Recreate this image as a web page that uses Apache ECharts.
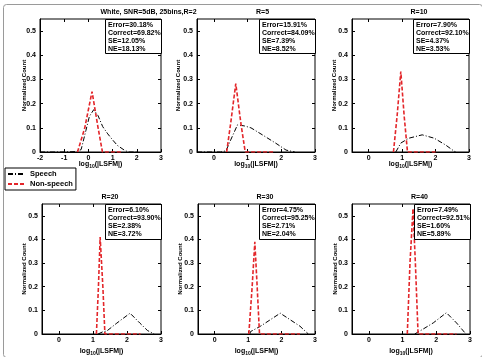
<!DOCTYPE html>
<html>
<head>
<meta charset="utf-8">
<script src="https://cdn.jsdelivr.net/npm/echarts@6/dist/echarts.min.js"></script>
<style>
html, body { margin: 0; padding: 0; background: #fff; }
#main { width: 482px; height: 357px; }
</style>
</head>
<body>
<div id="main"></div>
<script>
// panel titles and stats boxes
var panelTitles = ['White, SNR=5dB, 25bins,R=2', 'R=5', 'R=10', 'R=20', 'R=30', 'R=40'];
var errorPct = ['30.18', '15.91', '7.90', '6.10', '4.75', '7.49'];
var correctPct = ['69.82', '84.09', '92.10', '93.90', '95.25', '92.51'];
var sePct = ['12.05', '7.39', '4.37', '2.38', '2.71', '1.60'];
var nePct = ['18.13', '8.52', '3.53', '3.72', '2.04', '5.89'];

// axes
var xMins = [-2, -0.5, -0.5, -0.5, -0.5, -0.5];
var xMax = 3;
var xTicksFirst = [-2, -1, 0, 1, 2, 3];
var xTicks = [0, 1, 2, 3];
var yTicks = [0, 0.1, 0.2, 0.3, 0.4, 0.5];
var yMax = 0.55;

// histograms [log10(|LSFM|), normalized count]
var speechR2 = [[-2, 0], [-1, 0], [-0.5, 0.002], [-0.3, 0.01], [-0.1, 0.09], [0.04, 0.147], [0.22, 0.175], [0.4, 0.15], [0.59, 0.105], [0.8, 0.075], [1.0, 0.05], [1.2, 0.027], [1.48, 0.008], [1.65, 0], [2, 0]];
var nonspeechR2 = [[-0.45, 0], [-0.15, 0.1], [0.15, 0.25], [0.4, 0.1], [0.58, 0], [1.4, 0]];
var speechR5 = [[-0.5, 0], [0.2, 0], [0.36, 0.005], [0.5, 0.05], [0.7, 0.112], [0.9, 0.108], [1.1, 0.1], [1.45, 0.07], [1.84, 0.036], [2.14, 0.008], [2.4, 0]];
var nonspeechR5 = [[0.38, 0], [0.5, 0.12], [0.65, 0.283], [0.8, 0.12], [0.93, 0], [1.8, 0]];
var speechR10 = [[0.81, 0], [0.96, 0.037], [1.2, 0.057], [1.6, 0.071], [1.96, 0.057], [2.3, 0.029], [2.55, 0.004], [2.6, 0]];
var nonspeechR10 = [[0.74, 0], [0.85, 0.15], [0.96, 0.333], [1.06, 0.15], [1.16, 0], [2.0, 0]];
var speechR20 = [[1.15, 0], [1.3, 0.01], [1.4, 0.012], [1.7, 0.046], [2.09, 0.088], [2.38, 0.046], [2.6, 0.015], [2.8, 0]];
var nonspeechR20 = [[1.1, 0], [1.16, 0.2], [1.21, 0.41], [1.29, 0.2], [1.35, 0], [2.4, 0]];
var speechR30 = [[1.05, 0], [1.07, 0.01], [1.37, 0.033], [1.96, 0.088], [2.55, 0.033], [2.8, 0]];
var nonspeechR30 = [[1.02, 0], [1.12, 0.2], [1.2, 0.39], [1.27, 0.2], [1.34, 0], [2.55, 0]];
var speechR40 = [[1.36, 0], [1.6, 0.02], [1.91, 0.047], [2.3, 0.09], [2.6, 0.047], [2.88, 0]];
var nonspeechR40 = [[1.14, 0], [1.22, 0.3], [1.31, 0.53], [1.38, 0.3], [1.46, 0], [2.6, 0]];

var speechAll = [speechR2, speechR5, speechR10, speechR20, speechR30, speechR40];
var nonspeechAll = [nonspeechR2, nonspeechR5, nonspeechR10, nonspeechR20, nonspeechR30, nonspeechR40];

var font = "'Liberation Sans', Arial, sans-serif";
var chart = echarts.init(document.getElementById('main'));

var grids = [
  { left: 40, top: 19, width: 121, height: 133 },
  { left: 197, top: 19, width: 118, height: 133 },
  { left: 352, top: 19, width: 117, height: 133 },
  { left: 42, top: 204, width: 119, height: 134 },
  { left: 198, top: 204, width: 117, height: 134 },
  { left: 352, top: 204, width: 118, height: 134 }
];
var yNameGaps = [13, 16, 15, 15, 15, 14];

var xAxes = [], yAxes = [], xMirror = [], yMirror = [], series = [];
var graphics = [{
  type: 'rect', left: 1, top: 2, silent: true,
  shape: { width: 479, height: 353, r: 3 },
  style: { fill: null, stroke: '#9a9a9a', lineWidth: 1 }
}];

grids.forEach(function (g, i) {
  g.show = true;
  g.borderColor = '#000';
  g.borderWidth = 1;
  g.backgroundColor = '#fff';
  var ticks = i === 0 ? xTicksFirst : xTicks;
  xAxes.push({
    type: 'value', gridIndex: i, min: xMins[i], max: xMax,
    axisLine: { onZero: false, lineStyle: { color: '#000', width: 1 } },
    axisTick: { inside: true, length: 3, customValues: ticks, lineStyle: { color: '#000' } },
    axisLabel: { customValues: ticks, margin: 3, fontSize: 7, fontWeight: 'bold', color: '#000', fontFamily: font },
    splitLine: { show: false },
    name: 'log{sub|10}(|LSFM|)',
    nameLocation: 'middle',
    nameMoveOverlap: false,
    nameGap: i < 3 ? 8 : 13,
    nameTextStyle: {
      fontSize: 7, fontWeight: 'bold', color: '#000', fontFamily: font,
      rich: { sub: { fontSize: 5, fontWeight: 'bold', color: '#000', fontFamily: font, padding: [4, 0, 0, 0] } }
    }
  });
  yAxes.push({
    type: 'value', gridIndex: i, min: 0, max: yMax,
    axisLine: { onZero: false, lineStyle: { color: '#000', width: 1 } },
    axisTick: { inside: true, length: 3, customValues: yTicks, lineStyle: { color: '#000' } },
    axisLabel: { customValues: yTicks, margin: 4, fontSize: 7, fontWeight: 'bold', color: '#000', fontFamily: font },
    splitLine: { show: false },
    name: 'Normalized Count',
    nameLocation: 'middle',
    nameMoveOverlap: false,
    nameGap: yNameGaps[i],
    nameTextStyle: { fontSize: 6, fontWeight: 'bold', color: '#000', fontFamily: font }
  });
  // tick marks on the top and right edges (box on)
  xMirror.push({
    type: 'value', gridIndex: i, position: 'top', min: xMins[i], max: xMax,
    axisLine: { show: false, onZero: false },
    axisTick: { inside: true, length: 3, customValues: ticks, lineStyle: { color: '#000' } },
    axisLabel: { show: false }, splitLine: { show: false }
  });
  yMirror.push({
    type: 'value', gridIndex: i, position: 'right', min: 0, max: yMax,
    axisLine: { show: false, onZero: false },
    axisTick: { inside: true, length: 3, customValues: yTicks, lineStyle: { color: '#000' } },
    axisLabel: { show: false }, splitLine: { show: false }
  });
  series.push({
    name: 'Speech', type: 'line', xAxisIndex: i, yAxisIndex: i,
    data: speechAll[i], symbol: 'none', showSymbol: false, z: 2,
    lineStyle: { color: '#000', width: 1, type: [5, 2, 1, 2] }
  });
  series.push({
    name: 'Non-speech', type: 'line', xAxisIndex: i, yAxisIndex: i,
    data: nonspeechAll[i], symbol: 'none', showSymbol: false, z: 3,
    lineStyle: { color: '#e3262a', width: 1.6, type: [4, 2] }
  });

  var right = g.left + g.width;
  graphics.push({
    type: 'text', left: g.left + g.width / 2, top: g.top - 10,
    style: {
      text: panelTitles[i], fill: '#000', font: 'bold 7px ' + font,
      textAlign: 'center'
    }
  });
  var bw = 56, bh = i < 3 ? 34 : 35;
  graphics.push({
    type: 'rect', left: right - bw, top: g.top, z: 10,
    shape: { width: bw, height: bh },
    style: { fill: '#fff', stroke: '#000', lineWidth: 1 }
  });
  graphics.push({
    type: 'text', left: right - bw + 3, top: g.top + 2, z: 11,
    style: {
      text: 'Error=' + errorPct[i] + '%\nCorrect=' + correctPct[i] + '%\nSE=' + sePct[i] + '%\nNE=' + nePct[i] + '%',
      fill: '#000', font: 'bold 7px ' + font, lineHeight: 8
    }
  });
});

chart.setOption({
  animation: false,
  backgroundColor: '#fff',
  textStyle: { fontFamily: font },
  grid: grids,
  xAxis: xAxes.concat(xMirror),
  yAxis: yAxes.concat(yMirror),
  legend: {
    data: ['Speech', 'Non-speech'],
    orient: 'vertical', left: 5, top: 168,
    itemWidth: 17, itemHeight: 6, itemGap: 2,
    padding: [2, 3, 2, 2],
    borderColor: '#000', borderWidth: 1, backgroundColor: '#fff',
    itemStyle: { opacity: 0 },
    textStyle: { fontSize: 7.5, fontWeight: 'bold', color: '#000', fontFamily: font }
  },
  series: series,
  graphic: graphics
});
</script>
</body>
</html>
